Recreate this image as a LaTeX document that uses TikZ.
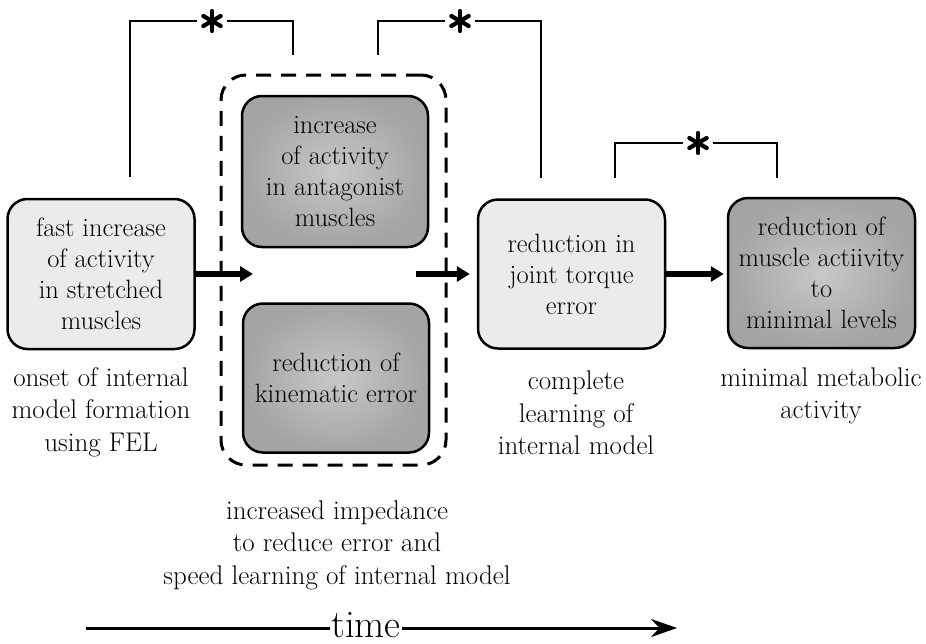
\documentclass[tikz,border=0pt]{standalone}
\usetikzlibrary{arrows.meta}
\definecolor{paleboxfill}{HTML}{EBEBEB}
\definecolor{darkinner}{HTML}{C8C8C8}
\definecolor{darkouter}{HTML}{A4A4A4}
\begin{document}
\begin{tikzpicture}[x=1pt,y=-1pt,
  stagebox/.style={draw, line width=2.5, rounded corners=20, minimum width=187,
    minimum height=150, align=center, inner sep=0, font=\fontsize{26.5}{31}\selectfont},
  lightbox/.style={stagebox, fill=paleboxfill},
  darkbox/.style={stagebox, inner color=darkinner, outer color=darkouter},
  caption/.style={align=center, inner sep=0, font=\fontsize{27}{32.5}\selectfont},
  bigarrow/.style={line width=6, -{Triangle[length=13pt,width=15pt]}},
  bracket/.style={line width=1.6},
  starnode/.style={minimum size=30, inner sep=0},
  starline/.style={line width=4.2, line cap=round},
]
\useasboundingbox (0,0) rectangle (926,643);

% grouping of the two simultaneous effects
\node[draw, dashed, dash pattern=on 15pt off 10pt, line width=3, rounded corners=25,
  minimum width=225, minimum height=390] (grp) at (333.5,270) {};

% stages
\node[lightbox] (b1) at (101,274) {fast increase\\of activity\\in stretched\\muscles};
\node[darkbox, minimum width=186, minimum height=151] (b2) at (335,171.5) {increase\\of activity\\in antagonist\\muscles};
\node[darkbox, minimum width=186, minimum height=149] (b3) at (336,378) {reduction of\\kinematic error};
\node[lightbox, minimum height=149] (b4) at (571.5,274) {reduction in\\joint torque\\error};
\node[darkbox] (b5) at (821.5,273) {reduction of\\muscle actiivity\\to\\minimal levels};

% captions
\node[caption] (l1) at (101,412) {onset of internal\\model formation\\using FEL};
\node[caption] (l4) at (576,413) {complete\\learning of\\internal model};
\node[caption] (l5) at (821,396) {minimal metabolic\\activity};
\node[caption] (lg) at (337,545) {increased impedance\\to reduce error and\\speed learning of internal model};

% progression arrows
\coordinate (a1end) at (253,274);
\coordinate (a2start) at (416,274);
\draw[bigarrow] (b1.east) -- (a1end);
\draw[bigarrow, shorten >=7] (a2start) -- (a2start -| b4.west);
\draw[bigarrow, shorten >=3] (b4.east) -- (b4.east -| b5.west);

% significance brackets
\node[starnode] (s1) at (212,21) {};
\node[starnode] (s2) at (460,21) {};
\node[starnode] (s3) at (698,143) {};
\coordinate (c1a) at (130,177); \coordinate (c1b) at (293,55);
\coordinate (c2a) at (378,55);  \coordinate (c2b) at (541,178);
\coordinate (c3a) at (615,178); \coordinate (c3b) at (777,178);
\draw[bracket] (c1a) |- (s1);
\draw[bracket] (s1) -| (c1b);
\draw[bracket] (c2a) |- (s2);
\draw[bracket] (s2) -| (c2b);
\draw[bracket] (c3a) |- (s3);
\draw[bracket] (s3) -| (c3b);
\foreach \s in {s1,s2,s3}
  \foreach \a in {30,90,...,330}
    \draw[starline] (\s.center) -- ++(\a:10);

% time axis
\node[font=\fontsize{39}{39}\selectfont, inner sep=1.5, anchor=base] (time) at (366,637) {time};
\coordinate (t0) at (86,628);
\coordinate (t1) at (677,628);
\draw[line width=3] (t0) -- (t0 -| time.west);
\draw[line width=3, -{Stealth[length=26pt,width=18pt]}] (t1 -| time.east) -- (t1);
\end{tikzpicture}
\end{document}
